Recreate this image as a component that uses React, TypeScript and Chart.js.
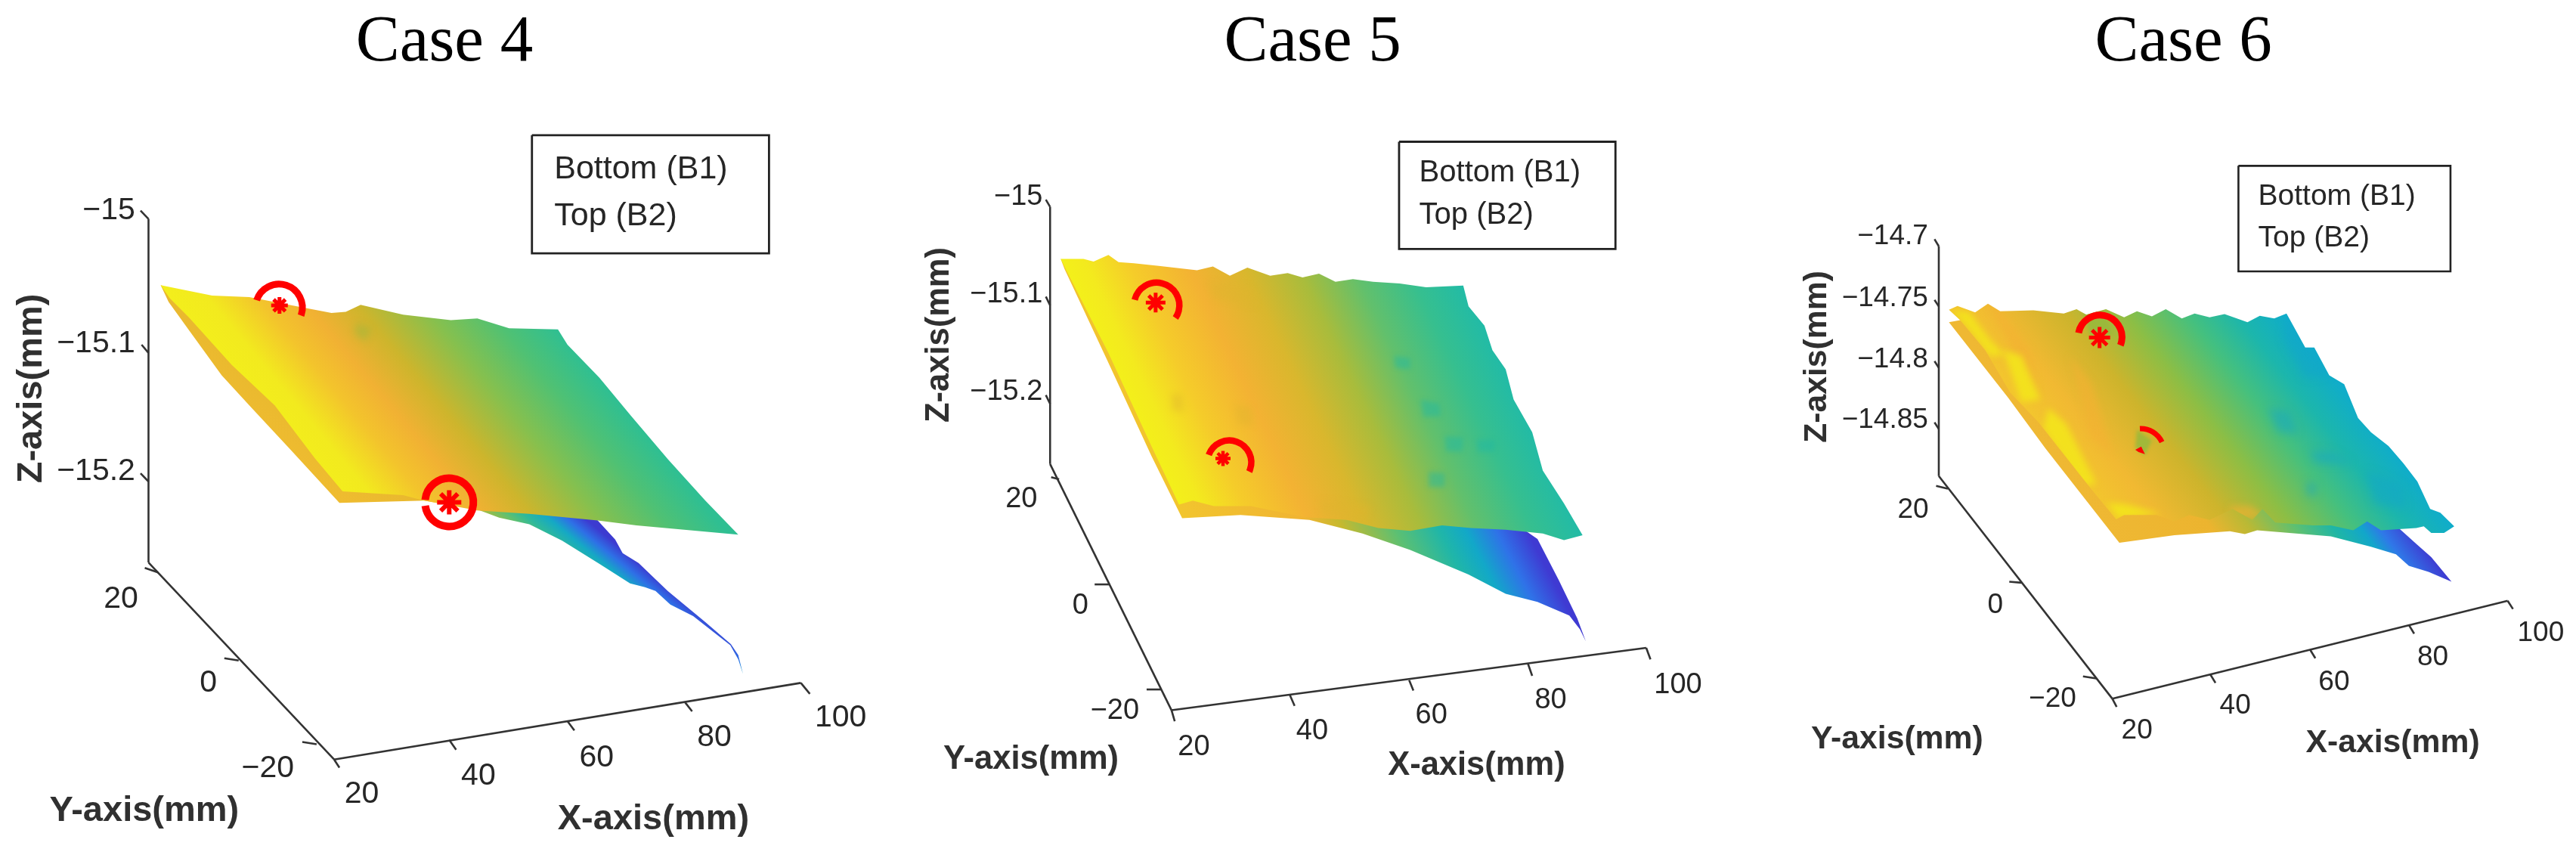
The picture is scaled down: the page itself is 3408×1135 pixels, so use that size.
import React, { useEffect, useRef } from "react";
import { Chart, registerables } from "chart.js";

Chart.register(...registerables);

type P = [number, number];

/* ---------- shared colour ramps (position along the surface, colour) ---------- */
const rampCase4Top: [number, string][] = [[0, "#f3ee1c"], [0.1, "#f2ea1e"], [0.24, "#f3c42c"], [0.36, "#f1b133"], [0.5, "#cdb52c"], [0.68, "#86c04e"], [0.85, "#50c173"], [1, "#2fbf92"]];
const rampCase4Bottom: [number, string][] = [[0, "#efbc30"], [0.41, "#e8b82e"], [0.56, "#b5bb36"], [0.68, "#5cc072"], [0.75, "#2fb99a"], [0.84, "#15a9c4"], [0.92, "#2e70e6"], [1, "#3c3bd0"]];
const rampCase5Top: [number, string][] = [[0, "#f3f01a"], [0.06, "#f3ea1e"], [0.17, "#f5cc2a"], [0.32, "#f3b233"], [0.46, "#d9b72d"], [0.6, "#a8bc3c"], [0.74, "#62c06c"], [0.88, "#36bf8f"], [1, "#22bba6"]];
const rampCase5Bottom: [number, string][] = [[0, "#f2c52e"], [0.36, "#f0b432"], [0.46, "#c5b92f"], [0.61, "#5cc072"], [0.74, "#20b6a8"], [0.82, "#12a8c8"], [0.91, "#2f72e8"], [1, "#3f3ad2"]];
const rampCase6Top: [number, string][] = [[0, "#f3c52e"], [0.14, "#f1b932"], [0.34, "#cdb42c"], [0.52, "#8cbe45"], [0.7, "#45c07e"], [0.85, "#1cb6ac"], [1, "#0faccb"]];
const rampCase6Bottom: [number, string][] = [[0, "#efb833"], [0.34, "#ecb42f"], [0.47, "#b9b935"], [0.62, "#5cc072"], [0.74, "#1fb6a6"], [0.83, "#12a6ca"], [0.89, "#2f78e8"], [1, "#3f38d0"]];

/* ---------- Case 4 ---------- */
const case4Top: P[] = [[303, 521], [400, 540], [470, 543], [560, 560], [625, 572], [652, 570], [680, 557], [760, 575], [850, 585], [900, 582], [960, 600], [1052, 602], [1070, 630], [1130, 690], [1190, 760], [1260, 840], [1330, 915], [1392, 977], [1200, 960], [1127, 951], [998, 939], [900, 933], [800, 915], [760, 905], [646, 898], [594, 838], [518, 741], [437, 667], [356, 580], [320, 545]];
const case4Bottom: P[] = [[303, 521], [318, 552], [356, 603], [418, 686], [475, 746], [546, 820], [640, 919], [800, 915], [903, 932], [941, 946], [998, 958], [1060, 988], [1131, 1031], [1188, 1066], [1216, 1073], [1236, 1080], [1264, 1105], [1307, 1126], [1377, 1179], [1392, 1205], [1401, 1232], [1392, 1197], [1378, 1177], [1330, 1137], [1259, 1080], [1204, 1029], [1174, 1011], [1160, 986], [1127, 951], [1000, 800]];
const case4Patches: P[][] = [[[672, 590], [700, 600], [690, 625], [668, 610]]];
const case4Rings: P[] = [[526, 562], [847, 918]];
const case4Stars: P[] = [[527, 558], [847, 918]];
const case4Legend: P[] = [[1003, 247], [1450, 247], [1450, 463], [1003, 463], [1003, 247]];
const case4ZLine: P[] = [[280, 400], [280, 1028]];
const case4YLine: P[] = [[280, 1028], [630, 1388]];
const case4XLine: P[] = [[630, 1388], [1510, 1248]];
const case4Ticks: P[][] = [[[265, 385], [280, 400]], [[267, 630], [280, 645]], [[265, 865], [280, 880]], [[273, 1038], [298, 1046]], [[423, 1203], [450, 1207]], [[570, 1356], [597, 1360]], [[630, 1388], [640, 1403]], [[847, 1352], [860, 1370]], [[1070, 1318], [1083, 1335]], [[1292, 1284], [1305, 1300]], [[1510, 1248], [1527, 1268]]];
const case4ZLabels = ["−15", "−15.1", "−15.2"];
const case4ZLabelAt: P[] = [[255, 385], [255, 628], [255, 862]];
const case4YLabels = ["20", "0", "−20"];
const case4YLabelAt: P[] = [[228, 1095], [393, 1248], [505, 1405]];
const case4XLabels = ["20", "40", "60", "80", "100"];
const case4XLabelAt: P[] = [[682, 1452], [902, 1418], [1125, 1385], [1347, 1348], [1585, 1312]];

/* ---------- Case 5 ---------- */
const case5Top: P[] = [[361, 473], [404, 473], [423, 478], [451, 466], [470, 479], [499, 481], [546, 486], [618, 494], [648, 487], [680, 504], [713, 489], [756, 504], [789, 499], [817, 507], [848, 500], [879, 515], [912, 510], [950, 515], [1000, 518], [1050, 525], [1120, 522], [1130, 560], [1160, 595], [1175, 640], [1200, 675], [1215, 730], [1250, 790], [1270, 860], [1310, 920], [1345, 978], [1310, 987], [1270, 975], [1200, 968], [1135, 965], [1080, 960], [1020, 970], [960, 965], [900, 950], [820, 945], [720, 925], [650, 925], [610, 915], [584, 922], [532, 815], [451, 645], [372, 495]];
const case5Bottom: P[] = [[361, 473], [368, 491], [451, 663], [532, 833], [590, 947], [700, 941], [830, 950], [930, 975], [1020, 1005], [1130, 1050], [1200, 1085], [1260, 1100], [1320, 1125], [1340, 1150], [1351, 1172], [1335, 1130], [1300, 1060], [1260, 985], [1230, 965], [1000, 800]];
const case5TealPatches: P[][] = [[[1040, 730], [1075, 738], [1078, 760], [1045, 762]], [[1055, 862], [1085, 865], [1085, 890], [1055, 890]], [[1085, 797], [1120, 800], [1118, 825], [1088, 825]], [[1145, 803], [1180, 805], [1178, 825], [1148, 826]], [[990, 650], [1020, 655], [1020, 675], [992, 672]]];
const case5WarmPatches: P[][] = [[[570, 720], [590, 722], [592, 752], [572, 750]], [[690, 740], [720, 745], [724, 778], [695, 775]], [[640, 515], [720, 525], [730, 560], [650, 545]], [[850, 915], [945, 925], [940, 948], [855, 942]]];
const case5Rings: P[] = [[542, 558], [679, 845]];
const case5Stars: P[] = [[540, 553], [667, 838]];
const case5Legend: P[] = [[999, 259], [1407, 259], [1407, 455], [999, 455], [999, 259]];
const case5ZLine: P[] = [[341, 378], [341, 848]];
const case5YLine: P[] = [[341, 848], [570, 1298]];
const case5XLine: P[] = [[570, 1298], [1465, 1184]];
const case5Ticks: P[][] = [[[333, 365], [341, 378]], [[333, 542], [341, 558]], [[333, 722], [341, 738]], [[343, 872], [358, 876]], [[425, 1068], [452, 1068]], [[523, 1260], [550, 1260]], [[570, 1298], [576, 1318]], [[793, 1270], [802, 1290]], [[1018, 1243], [1026, 1262]], [[1242, 1213], [1250, 1235]], [[1465, 1184], [1473, 1205]]];
const case5ZLabels = ["−15", "−15.1", "−15.2"];
const case5ZLabelAt: P[] = [[327, 360], [327, 538], [327, 717]];
const case5YLabels = ["20", "0", "−20"];
const case5YLabelAt: P[] = [[287, 913], [398, 1107], [463, 1300]];
const case5XLabels = ["20", "40", "60", "80", "100"];
const case5XLabelAt: P[] = [[612, 1365], [835, 1337], [1060, 1308], [1285, 1280], [1525, 1252]];

/* ---------- Case 6 ---------- */
const case6Top: P[] = [[394, 566], [410, 559], [443, 571], [467, 555], [490, 569], [552, 567], [609, 573], [633, 565], [651, 575], [688, 565], [722, 580], [746, 569], [774, 578], [800, 565], [830, 582], [854, 573], [882, 580], [910, 574], [953, 589], [976, 577], [1003, 582], [1026, 573], [1061, 635], [1078, 635], [1106, 686], [1134, 702], [1160, 764], [1184, 790], [1217, 815], [1245, 847], [1271, 880], [1295, 930], [1314, 937], [1340, 962], [1321, 974], [1297, 974], [1283, 962], [1269, 965], [1203, 969], [1177, 953], [1151, 969], [1109, 960], [1076, 960], [1005, 955], [981, 930], [962, 950], [925, 930], [882, 950], [844, 941], [816, 953], [783, 941], [722, 941], [707, 949], [660, 893], [561, 771], [509, 718], [462, 640], [415, 585]];
const case6Bottom: P[] = [[394, 589], [505, 727], [575, 820], [713, 992], [816, 978], [920, 971], [948, 976], [971, 969], [1109, 980], [1184, 999], [1231, 1013], [1255, 1034], [1292, 1045], [1335, 1063], [1297, 1018], [1269, 994], [1236, 965], [1000, 800], [415, 585]];
const case6YellowPatches: P[][] = [[[398, 566], [432, 570], [470, 620], [500, 650], [470, 650], [430, 600]], [[495, 640], [530, 650], [565, 730], [530, 735]], [[580, 746], [613, 774], [670, 884], [641, 888], [571, 783]], [[689, 919], [722, 921], [792, 939], [712, 948]]];
const case6OrangePatches: P[][] = [[[467, 555], [490, 569], [545, 640], [560, 720], [520, 650]], [[620, 650], [660, 700], [700, 830], [660, 800]], [[920, 925], [960, 925], [985, 945], [925, 950]]];
const case6BluePatches: P[][] = [[[1026, 573], [1078, 635], [1106, 686], [1060, 690], [1020, 620]], [[991, 746], [1030, 752], [1047, 792], [1010, 790]], [[1070, 824], [1110, 826], [1150, 846], [1080, 846]], [[1064, 880], [1082, 884], [1080, 908], [1064, 904]], [[1175, 860], [1240, 885], [1250, 930], [1190, 920]]];
const case6GreenPatches: P[][] = [[[746, 785], [774, 805], [761, 832], [743, 819]], [[645, 570], [685, 570], [700, 612], [660, 615]]];
const case6Rings: P[] = [[677, 616], [753, 826]];
const case6Stars: P[] = [[676, 617]];
const case6Fragment: P[] = [[743, 822], [754, 816], [761, 830], [749, 826]];
const case6Legend: P[] = [[936, 303], [1333, 303], [1333, 496], [936, 496], [936, 303]];
const case6ZLine: P[] = [[375, 450], [375, 870]];
const case6YLine: P[] = [[375, 870], [700, 1277]];
const case6XLine: P[] = [[700, 1277], [1440, 1098]];
const case6Ticks: P[][] = [[[367, 437], [375, 450]], [[367, 548], [375, 560]], [[367, 660], [375, 672]], [[367, 772], [375, 784]], [[370, 888], [392, 893]], [[507, 1063], [530, 1065]], [[645, 1236], [670, 1240]], [[700, 1277], [708, 1292]], [[883, 1232], [893, 1248]], [[1070, 1187], [1080, 1203]], [[1255, 1142], [1265, 1158]], [[1440, 1098], [1450, 1113]]];
const case6ZLabels = ["−14.7", "−14.75", "−14.8", "−14.85"];
const case6ZLabelAt: P[] = [[355, 432], [355, 545], [355, 657], [355, 768]];
const case6YLabels = ["20", "0", "−20"];
const case6YLabelAt: P[] = [[327, 932], [481, 1106], [588, 1278]];
const case6XLabels = ["20", "40", "60", "80", "100"];
const case6XLabelAt: P[] = [[746, 1335], [930, 1290], [1115, 1247], [1300, 1202], [1502, 1158]];

const legendLines = ["Bottom (B1)", "Top (B2)"];
const axisNames = ["X-axis(mm)", "Y-axis(mm)", "Z-axis(mm)"];

/* ---------- helpers that turn the arrays into datasets ---------- */
const pts = (a: P[]) => a.map(([x, y]) => ({ x, y }));
const base = { pointRadius: 0, showLine: false };
const surface = (a: P[], start: P, end: P, iso: P, ramp: [number, string][]) => ({ ...base, data: pts(a), surfaceFill: { start, end, iso, ramp } });
const patch = (a: P[], color: string, clipTo: P[] | null = null, soft = 5) => ({ ...base, data: pts(a), solidFill: color, clipTo, soft });
const line = (a: P[], width = 2.6, color = "#333333") => ({ data: pts(a), showLine: true, pointRadius: 0, borderColor: color, borderWidth: width, fill: false });
const ring = (c: P, r: number, w: number, startDeg: number, endDeg: number) => ({ ...base, data: pts([c]), ringMark: { r, w, startDeg, endDeg } });
const star = (c: P, r: number, w: number) => ({ data: pts([c]), showLine: false, pointStyle: "star", pointRadius: r, borderColor: "#ff0000", backgroundColor: "#ff0000", pointBorderWidth: w, pointBorderColor: "#ff0000" });

type Text = { text: string; at: P; font: string; align?: CanvasTextAlign; rotate?: boolean; color?: string };

const PANELS = [
  {
    left: 0, width: 1150, xMax: 1639,
    datasets: [
      line(case4ZLine), line(case4YLine), line(case4XLine), ...case4Ticks.map((t) => line(t)), line(case4Legend, 2.8, "#222222"),
      surface(case4Bottom, [640, 917], [1150, 985], [0.78, 0.62], rampCase4Bottom),
      surface(case4Top, [303, 521], [1052, 602], [340, 396], rampCase4Top),
      ...case4Patches.map((p) => patch(p, "rgba(150,185,60,0.45)", case4Top)),
      ring(case4Rings[0], 31, 9, 198, 380), ring(case4Rings[1], 32, 10, 186, 532),
      star(case4Stars[0], 11, 5), star(case4Stars[1], 16, 6),
    ],
    texts: [
      { text: "Case 4", at: [838, 110], font: "87px 'Liberation Serif'" },
      ...legendLines.map((t, i) => ({ text: t, at: [1045, [310, 395][i]] as P, font: "43px 'Liberation Sans'", align: "left" as const })),
      ...case4ZLabels.map((t, i) => ({ text: t, at: case4ZLabelAt[i], font: "41px 'Liberation Sans'", align: "right" as const })),
      ...case4YLabels.map((t, i) => ({ text: t, at: case4YLabelAt[i], font: "41px 'Liberation Sans'" })),
      ...case4XLabels.map((t, i) => ({ text: t, at: case4XLabelAt[i], font: "41px 'Liberation Sans'" })),
      { text: axisNames[0], at: [1232, 1497], font: "bold 47px 'Liberation Sans'" },
      { text: axisNames[1], at: [272, 1483], font: "bold 47px 'Liberation Sans'" },
      { text: axisNames[2], at: [60, 710], font: "bold 47px 'Liberation Sans'", rotate: true },
    ] as Text[],
  },
  {
    left: 1150, width: 1150, xMax: 1639,
    datasets: [
      line(case5ZLine), line(case5YLine), line(case5XLine), ...case5Ticks.map((t) => line(t)), line(case5Legend, 2.8, "#222222"),
      surface(case5Bottom, [590, 945], [1350, 1172], [0.48, 0.88], rampCase5Bottom),
      surface(case5Top, [361, 473], [1120, 522], [230, 470], rampCase5Top),
      ...case5TealPatches.map((p) => patch(p, "rgba(30,185,165,0.45)", case5Top, 3)),
      ...case5WarmPatches.map((p) => patch(p, "rgba(222,180,45,0.4)", case5Top, 4)),
      ring(case5Rings[0], 30, 8.5, 194, 394), ring(case5Rings[1], 29, 8.5, 200, 385),
      star(case5Stars[0], 13, 5), star(case5Stars[1], 10, 4.5),
    ],
    texts: [
      { text: "Case 5", at: [836, 110], font: "87px 'Liberation Serif'" },
      ...legendLines.map((t, i) => ({ text: t, at: [1037, [317, 393][i]] as P, font: "40px 'Liberation Sans'", align: "left" as const })),
      ...case5ZLabels.map((t, i) => ({ text: t, at: case5ZLabelAt[i], font: "38px 'Liberation Sans'", align: "right" as const })),
      ...case5YLabels.map((t, i) => ({ text: t, at: case5YLabelAt[i], font: "38px 'Liberation Sans'" })),
      ...case5XLabels.map((t, i) => ({ text: t, at: case5XLabelAt[i], font: "38px 'Liberation Sans'" })),
      { text: axisNames[0], at: [1145, 1400], font: "bold 43.5px 'Liberation Sans'" },
      { text: axisNames[1], at: [305, 1388], font: "bold 43.5px 'Liberation Sans'" },
      { text: axisNames[2], at: [133, 612], font: "bold 43.5px 'Liberation Sans'", rotate: true },
    ] as Text[],
  },
  {
    left: 2300, width: 1108, xMax: 1568,
    datasets: [
      line(case6ZLine), line(case6YLine), line(case6XLine), ...case6Ticks.map((t) => line(t)), line(case6Legend, 2.6, "#222222"),
      surface(case6Bottom, [712, 995], [1340, 1068], [0.6, 0.8], rampCase6Bottom),
      surface(case6Top, [394, 566], [1026, 573], [315, 390], rampCase6Top),
      ...case6OrangePatches.map((p) => patch(p, "rgba(243,176,50,0.6)", case6Top)),
      ...case6YellowPatches.map((p) => patch(p, "rgba(243,228,28,0.9)", case6Top, 4)),
      ...case6BluePatches.map((p) => patch(p, "rgba(18,165,205,0.45)", case6Top, 6)),
      ...case6GreenPatches.map((p) => patch(p, "rgba(150,185,60,0.85)", case6Top, 2)),
      ring(case6Rings[0], 29, 9, 191, 382), ring(case6Rings[1], 31, 7, 268, 335),
      star(case6Stars[0], 14, 5),
      patch(case6Fragment, "#ff0000", null, 0),
    ],
    texts: [
      { text: "Case 6", at: [833, 110], font: "87px 'Liberation Serif'" },
      ...legendLines.map((t, i) => ({ text: t, at: [973, [360, 435][i]] as P, font: "39px 'Liberation Sans'", align: "left" as const })),
      ...case6ZLabels.map((t, i) => ({ text: t, at: case6ZLabelAt[i], font: "37px 'Liberation Sans'", align: "right" as const })),
      ...case6YLabels.map((t, i) => ({ text: t, at: case6YLabelAt[i], font: "37px 'Liberation Sans'" })),
      ...case6XLabels.map((t, i) => ({ text: t, at: case6XLabelAt[i], font: "37px 'Liberation Sans'" })),
      { text: axisNames[0], at: [1225, 1358], font: "bold 42.7px 'Liberation Sans'" },
      { text: axisNames[1], at: [297, 1352], font: "bold 42.7px 'Liberation Sans'" },
      { text: axisNames[2], at: [148, 652], font: "bold 42.7px 'Liberation Sans'", rotate: true },
    ] as Text[],
  },
];

/* Draws filled outlines and partial rings at the pixel positions the scales gave to the points. */
const markPlugin = {
  id: "marks",
  beforeDatasetDraw(chart: any, args: any) {
    const ds = chart.data.datasets[args.index];
    const ctx: CanvasRenderingContext2D = chart.ctx;
    const sx = chart.scales.x;
    const sy = chart.scales.y;
    const els = args.meta.data;
    if (ds.surfaceFill || ds.solidFill) {
      ctx.save();
      if (ds.clipTo) {
        ctx.beginPath();
        ds.clipTo.forEach(([x, y]: P, i: number) => {
          const px = sx.getPixelForValue(x);
          const py = sy.getPixelForValue(y);
          if (i) ctx.lineTo(px, py);
          else ctx.moveTo(px, py);
        });
        ctx.closePath();
        ctx.clip();
      }
      if (ds.soft) ctx.filter = `blur(${ds.soft}px)`;
      ctx.beginPath();
      els.forEach((e: any, i: number) => (i ? ctx.lineTo(e.x, e.y) : ctx.moveTo(e.x, e.y)));
      ctx.closePath();
      if (ds.surfaceFill) {
        const { start, end, iso, ramp } = ds.surfaceFill;
        const x0 = sx.getPixelForValue(start[0]);
        const y0 = sy.getPixelForValue(start[1]);
        const x1 = sx.getPixelForValue(end[0]);
        const y1 = sy.getPixelForValue(end[1]);
        const ix = iso[0] * (sx.width / (sx.max - sx.min));
        const iy = iso[1] * (sy.height / (sy.max - sy.min));
        const len = Math.hypot(ix, iy);
        const nx = iy / len;
        const ny = -ix / len;
        const s = (x1 - x0) * nx + (y1 - y0) * ny;
        const g = ctx.createLinearGradient(x0, y0, x0 + nx * s, y0 + ny * s);
        ramp.forEach(([t, c]: [number, string]) => g.addColorStop(t, c));
        ctx.fillStyle = g;
      } else {
        ctx.fillStyle = ds.solidFill;
      }
      ctx.fill();
      ctx.restore();
      return false;
    }
    if (ds.ringMark) {
      const { r, w, startDeg, endDeg } = ds.ringMark;
      ctx.save();
      ctx.strokeStyle = "#ff0000";
      ctx.lineWidth = w;
      ctx.beginPath();
      ctx.arc(els[0].x, els[0].y, r, (startDeg * Math.PI) / 180, (endDeg * Math.PI) / 180);
      ctx.stroke();
      ctx.restore();
      return false;
    }
    return true;
  },
};

function Panel({ spec }: { spec: (typeof PANELS)[number] }) {
  const ref = useRef<HTMLCanvasElement>(null);
  useEffect(() => {
    const textPlugin = {
      id: "panelText",
      afterDraw(chart: any) {
        const ctx: CanvasRenderingContext2D = chart.ctx;
        for (const t of spec.texts) {
          const x = chart.scales.x.getPixelForValue(t.at[0]);
          const y = chart.scales.y.getPixelForValue(t.at[1]);
          const isTitle = t.font.includes("Serif");
          ctx.save();
          ctx.translate(x, y);
          if (t.rotate) ctx.rotate(-Math.PI / 2);
          ctx.font = t.font;
          ctx.fillStyle = isTitle ? "#000000" : t.font.startsWith("bold") ? "#303030" : "#262626";
          ctx.textAlign = t.align ?? "center";
          ctx.textBaseline = isTitle ? "alphabetic" : "middle";
          ctx.fillText(t.text, 0, 0);
          ctx.restore();
        }
      },
    };
    const chart = new Chart(ref.current as HTMLCanvasElement, {
      type: "scatter",
      data: {
        datasets: spec.datasets.map((d: any, i: number) => ({ ...d, order: -i })),
      } as any,
      options: {
        animation: false,
        responsive: false,
        layout: { padding: 0, autoPadding: false },
        events: [],
        plugins: { legend: { display: false }, tooltip: { enabled: false }, title: { display: false } },
        scales: {
          x: { type: "linear", display: false, min: 0, max: spec.xMax },
          y: { type: "linear", display: false, reverse: true, min: 0, max: 1568 },
        },
      } as any,
      plugins: [markPlugin, textPlugin] as any,
    });
    return () => chart.destroy();
  }, [spec]);
  return (
    <canvas
      ref={ref}
      width={spec.width}
      height={1135}
      style={{ position: "absolute", left: spec.left, top: 0, width: spec.width, height: 1135, filter: "blur(0.6px)" }}
    />
  );
}

export default function App() {
  return (
    <div style={{ position: "absolute", left: 0, top: 0, width: 3408, height: 1135, overflow: "hidden", background: "#ffffff" }}>
      {PANELS.map((p) => (
        <Panel key={p.left} spec={p} />
      ))}
    </div>
  );
}
